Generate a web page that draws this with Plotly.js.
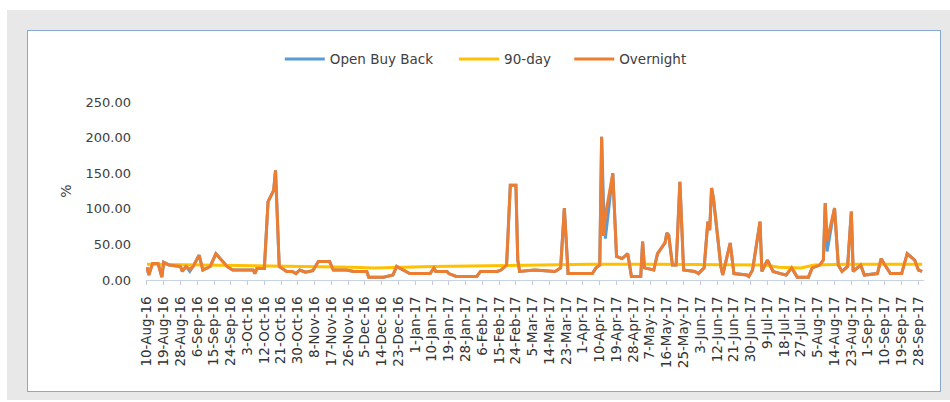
<!DOCTYPE html>
<html>
<head>
<meta charset="utf-8">
<script src="https://cdn.plot.ly/plotly-3.0.1.min.js"></script>
<style>
  html, body { margin:0; padding:0; background:#ffffff; width:950px; height:402px; overflow:hidden; }
  #bg { position:absolute; left:7px; top:10px; width:943px; height:390px; background:#e7e8e7; }
  #box { position:absolute; left:27px; top:30px; width:912px; height:360px; border:1px solid #86aad3; background:#ffffff; }
  #chart { width:912px; height:360px; }
</style>
</head>
<body>
<div id="bg"></div>
<div id="box"><div id="chart"></div></div>
<script>
// ---- data ----
const dates = [
 '2016-08-10','2016-08-11','2016-08-13','2016-08-16','2016-08-18','2016-08-19','2016-08-22','2016-08-28','2016-08-29','2016-08-31',
 '2016-09-02','2016-09-04','2016-09-07','2016-09-09','2016-09-13','2016-09-16','2016-09-19','2016-09-22','2016-09-25','2016-09-30',
 '2016-10-06','2016-10-07','2016-10-08','2016-10-12','2016-10-14','2016-10-17','2016-10-18','2016-10-20','2016-10-24','2016-10-27',
 '2016-10-29','2016-10-31','2016-11-03','2016-11-07','2016-11-10','2016-11-16','2016-11-18','2016-11-25','2016-11-29','2016-12-06',
 '2016-12-07','2016-12-15','2016-12-20','2016-12-22','2016-12-29','2017-01-09','2017-01-11','2017-01-12','2017-01-18','2017-01-19',
 '2017-01-23','2017-02-03','2017-02-05','2017-02-14','2017-02-16','2017-02-19','2017-02-21','2017-02-24','2017-02-25','2017-02-26',
 '2017-03-06','2017-03-17','2017-03-20','2017-03-22','2017-03-23','2017-03-24','2017-04-06','2017-04-08','2017-04-10','2017-04-11',
 '2017-04-12','2017-04-13','2017-04-17','2017-04-19','2017-04-22','2017-04-25','2017-04-26','2017-04-27','2017-05-02','2017-05-03',
 '2017-05-04','2017-05-09','2017-05-11','2017-05-15','2017-05-16','2017-05-17','2017-05-19','2017-05-21','2017-05-23','2017-05-25',
 '2017-05-31','2017-06-02','2017-06-05','2017-06-07','2017-06-08','2017-06-09','2017-06-10','2017-06-12','2017-06-14','2017-06-15',
 '2017-06-19','2017-06-21','2017-06-28','2017-06-29','2017-07-01','2017-07-05','2017-07-06','2017-07-09','2017-07-12','2017-07-16',
 '2017-07-19','2017-07-22','2017-07-25','2017-07-31','2017-08-02','2017-08-06','2017-08-08','2017-08-09','2017-08-10','2017-08-14',
 '2017-08-16','2017-08-18','2017-08-21','2017-08-23','2017-08-24','2017-08-28','2017-08-30','2017-09-06','2017-09-08','2017-09-10',
 '2017-09-13','2017-09-19','2017-09-22','2017-09-26','2017-09-28','2017-09-30'
];
const overnight = [
 18,7,23,23,4,25,21,19,12,19,
 15,20,35,14,19,37,28,19,14,14,
 14,9,16,16,110,126,154,19,12,12,
 9,14,11,13,26,26,14,14,12,12,
 4,4,7,19,9,9,17,12,12,9,
 5,5,12,12,14,21,133,133,28,12,
 14,12,17,101,51,9,9,17,21,201,
 62,90,150,33,30,37,21,5,5,54,
 17,14,37,52,66,63,21,21,138,14,
 12,9,17,82,70,129,115,67,19,7,
 52,9,7,5,14,82,12,28,12,9,
 7,17,4,4,17,21,28,108,55,101,
 21,12,19,96,12,21,7,9,30,21,
 9,9,37,28,14,12
];
const openBuyBack = [
 18,7,23,23,4,25,21,19,12,19,
 12,20,35,14,19,37,28,19,14,14,
 14,9,16,16,110,126,154,19,12,12,
 9,14,11,13,26,26,14,14,12,12,
 4,4,7,19,9,9,17,12,12,9,
 5,5,12,12,14,21,133,133,28,12,
 14,12,17,101,51,9,9,17,21,201,
 110,58,150,33,30,37,21,5,5,54,
 17,14,37,52,66,63,21,21,138,14,
 12,9,17,82,70,129,115,67,19,7,
 52,9,7,5,14,82,12,28,12,9,
 7,17,4,4,17,21,28,108,40,101,
 21,12,19,96,12,21,7,9,30,21,
 9,9,37,28,14,12
];
const ninetyDates = ['2016-08-10','2016-09-10','2016-10-10','2016-11-10','2016-11-28','2016-12-10','2016-12-24','2017-01-10',
 '2017-02-10','2017-03-10','2017-04-05','2017-05-10','2017-06-10','2017-07-08','2017-07-15','2017-07-27','2017-08-03','2017-08-20','2017-09-30'];
const ninetyDay = [22,21,20,19,18,17,18,19,20,21,22,22,22,21,18,17,21,22,22];

const tickLabels = ['10-Aug-16','19-Aug-16','28-Aug-16','6-Sep-16','15-Sep-16','24-Sep-16','3-Oct-16','12-Oct-16','21-Oct-16','30-Oct-16',
 '8-Nov-16','17-Nov-16','26-Nov-16','5-Dec-16','14-Dec-16','23-Dec-16','1-Jan-17','10-Jan-17','19-Jan-17','28-Jan-17',
 '6-Feb-17','15-Feb-17','24-Feb-17','5-Mar-17','14-Mar-17','23-Mar-17','1-Apr-17','10-Apr-17','19-Apr-17','28-Apr-17',
 '7-May-17','16-May-17','25-May-17','3-Jun-17','12-Jun-17','21-Jun-17','30-Jun-17','9-Jul-17','18-Jul-17','27-Jul-17',
 '5-Aug-17','14-Aug-17','23-Aug-17','1-Sep-17','10-Sep-17','19-Sep-17','28-Sep-17'];
const yTickVals = [0,50,100,150,200,250];

// ---- build ----
const MONTHS = {Jan:'01',Feb:'02',Mar:'03',Apr:'04',May:'05',Jun:'06',Jul:'07',Aug:'08',Sep:'09',Oct:'10',Nov:'11',Dec:'12'};
function labelToDate(s){ const p=s.split('-'); return '20'+p[2]+'-'+MONTHS[p[1]]+'-'+(p[0].length<2?'0'+p[0]:p[0]); }
const tickVals = tickLabels.map(labelToDate);

const traces = [
 {x:dates, y:openBuyBack, name:'Open Buy Back', legend:'legend', type:'scatter', mode:'lines', line:{color:'#5b9bd5', width:3}},
 {x:ninetyDates, y:ninetyDay, name:'90-day', legend:'legend2', type:'scatter', mode:'lines', line:{color:'#ffc000', width:3}},
 {x:dates, y:overnight, name:'Overnight', legend:'legend3', type:'scatter', mode:'lines', line:{color:'#ed7d31', width:3}}
];

const legFont = {family:'DejaVu Sans, sans-serif', size:13.5, color:'#404040'};
function leg(x){ return {orientation:'h', x:x, xanchor:'left', y:1.241, yanchor:'middle', font:legFont, itemwidth:40, bgcolor:'rgba(0,0,0,0)'}; }

const layout = {
 width:912, height:360,
 margin:{l:118, r:16, t:71, b:111},
 paper_bgcolor:'rgba(0,0,0,0)', plot_bgcolor:'rgba(0,0,0,0)',
 showlegend:true,
 legend:leg(0.172), legend2:leg(0.396), legend3:leg(0.544),
 xaxis:{type:'date', range:['2016-08-09 12:00','2017-10-01'], tickmode:'array', tickvals:tickVals, ticktext:tickLabels,
   tickangle:-90, ticks:'outside', ticklen:4, tickcolor:'#c8c8da', showline:true, linecolor:'#c8d4e4', linewidth:1,
   showgrid:false, zeroline:false, ticklabelstandoff:6,
   tickfont:{family:'DejaVu Sans, sans-serif', size:13.5, color:'#333333'}},
 yaxis:{range:[0,250], tickmode:'array', tickvals:yTickVals, tickformat:'.2f', showgrid:false, zeroline:false, showline:false,
   ticks:'', ticklabelstandoff:14,
   tickfont:{family:'DejaVu Sans, sans-serif', size:13, color:'#404040'},
   title:{text:'%', standoff:10, font:{family:'DejaVu Sans, sans-serif', size:14, color:'#404040'}}},
 hovermode:false
};
Plotly.newPlot('chart', traces, layout, {displayModeBar:false, staticPlot:true});
</script>
</body>
</html>
